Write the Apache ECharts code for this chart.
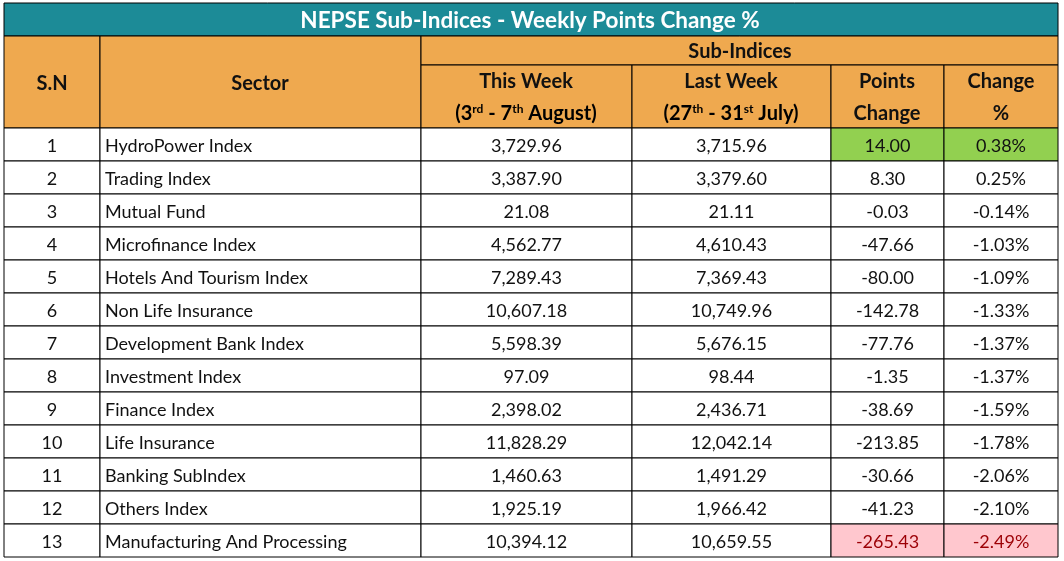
<!DOCTYPE html>
<html lang="en">
<head>
  <meta charset="UTF-8">
  <title>NEPSE Sub-Indices</title>
  <style>
    html, body { margin: 0; padding: 0; background: #fff; }
    #chart { width: 1064px; height: 561px; }
  </style>
</head>
<body>
  <div id="chart"></div>
</body>
<script src="https://cdn.jsdelivr.net/npm/echarts@6/dist/echarts.min.js"></script>
<script>
  let sn = ['1', '2', '3', '4', '5', '6', '7', '8', '9', '10', '11', '12', '13']
  let sectors = [
    'HydroPower Index', 'Trading Index', 'Mutual Fund', 'Microfinance Index',
    'Hotels And Tourism Index', 'Non Life Insurance', 'Development Bank Index',
    'Investment Index', 'Finance Index', 'Life Insurance', 'Banking SubIndex',
    'Others Index', 'Manufacturing And Processing'
  ]
  let thisWeek = [3729.96, 3387.90, 21.08, 4562.77, 7289.43, 10607.18, 5598.39, 97.09, 2398.02, 11828.29, 1460.63, 1925.19, 10394.12]
  let lastWeek = [3715.96, 3379.60, 21.11, 4610.43, 7369.43, 10749.96, 5676.15, 98.44, 2436.71, 12042.14, 1491.29, 1966.42, 10659.55]
  let pointsChange = [14.00, 8.30, -0.03, -47.66, -80.00, -142.78, -77.76, -1.35, -38.69, -213.85, -30.66, -41.23, -265.43]
  let changePct = [0.38, 0.25, -0.14, -1.03, -1.09, -1.33, -1.37, -1.37, -1.59, -1.78, -2.06, -2.10, -2.49]

  // layout (not data): column edges in table units, left to right
  let colEdges = [0, 96, 417, 628, 827, 940, 1054]
  let font = 'Lato, "Open Sans", sans-serif'
  let teal = '#1c8b97'
  let orange = '#efa94f'
  let green = '#92d050'
  let pink = '#ffc7ce'
  let darkRed = '#9c0006'

  let fmt = v => v.toLocaleString('en-US', { minimumFractionDigits: 2, maximumFractionDigits: 2 })

  let best = changePct.indexOf(Math.max(...changePct))
  let worst = changePct.indexOf(Math.min(...changePct))

  // one item per cell: [col, row, text]
  let cells = []
  sn.forEach((s, i) => {
    let row = [s, sectors[i], fmt(thisWeek[i]), fmt(lastWeek[i]), fmt(pointsChange[i]), changePct[i].toFixed(2) + '%']
    row.forEach((t, c) => cells.push([c, i, t]))
  })

  let chart = echarts.init(document.getElementById('chart'))

  function renderCell(params, api) {
    let c = api.value(0)
    let r = api.value(1)
    let text = cells[params.dataIndex][2]
    let x0 = api.coord([colEdges[c], r])[0]
    let x1 = api.coord([colEdges[c + 1], r])[0]
    let band = api.size([0, 1])[1]
    let yc = api.coord([0, r])[1]
    let fill = '#fff'
    let color = '#111'
    if (c >= 4 && r === best) fill = green
    if (c >= 4 && r === worst) { fill = pink; color = darkRed }
    let left = c === 1
    return {
      type: 'group',
      children: [
        {
          type: 'rect',
          shape: { x: x0, y: yc - band / 2, width: x1 - x0, height: band },
          style: { fill: fill, stroke: '#000', lineWidth: 1 }
        },
        {
          type: 'text',
          style: {
            text: text,
            x: left ? x0 + 5 : (x0 + x1) / 2,
            y: yc + 2,
            align: left ? 'left' : 'center',
            verticalAlign: 'middle',
            fontFamily: font,
            fontSize: 18,
            fill: color
          }
        }
      ]
    }
  }

  let headStyle = { fontFamily: font, fontSize: 20, fontWeight: 'bold', fill: '#111' }
  let rich = {
    b: { fontFamily: font, fontSize: 20, fontWeight: 'bold', color: '#111' },
    s: { fontFamily: font, fontSize: 12, fontWeight: 'bold', color: '#111', padding: [0, 0, 10, 0] }
  }
  function headText(x, y, text) {
    return { type: 'text', x: x, y: y, style: Object.assign({ text: text, align: 'center', verticalAlign: 'middle' }, headStyle) }
  }
  function headRich(x, y, text) {
    return { type: 'text', x: x, y: y, style: { text: text, rich: rich, align: 'center', verticalAlign: 'middle' } }
  }
  function box(x, y, w, h, fill) {
    return { type: 'rect', shape: { x: x, y: y, width: w, height: h }, style: { fill: fill, stroke: '#000', lineWidth: 1 } }
  }

  let option = {
    animation: false,
    grid: { left: 4, right: 6, top: 128, bottom: 4 },
    xAxis: { type: 'value', min: 0, max: 1054, show: false },
    yAxis: { type: 'category', data: sn, inverse: true, show: false },
    graphic: [
      box(4, 3, 1054, 33, teal),
      { type: 'text', x: 530, y: 21, style: { text: 'NEPSE Sub-Indices - Weekly Points Change %', align: 'center', verticalAlign: 'middle', fontFamily: font, fontSize: 22.5, fontWeight: 'bold', fill: '#fff' } },
      box(4, 36, 96, 92, orange),
      box(100, 36, 321, 92, orange),
      box(421, 36, 637, 29, orange),
      box(421, 65, 211, 63, orange),
      box(632, 65, 199, 63, orange),
      box(831, 65, 113, 63, orange),
      box(944, 65, 114, 63, orange),
      headText(52, 84, 'S.N'),
      headText(260, 84, 'Sector'),
      headText(740, 52, 'Sub-Indices'),
      headText(526, 82, 'This Week'),
      headRich(526, 114, '{b|(3}{s|rd}{b| - 7}{s|th}{b| August)}'),
      headText(731, 82, 'Last Week'),
      headRich(731, 114, '{b|(27}{s|th}{b| - 31}{s|st}{b| July)}'),
      headText(887, 82, 'Points'),
      headText(887, 114, 'Change'),
      headText(1001, 82, 'Change'),
      headText(1001, 114, '%')
    ],
    series: [
      {
        type: 'custom',
        renderItem: renderCell,
        encode: { x: 0, y: 1 },
        data: cells.map(c => [c[0], c[1]])
      }
    ]
  }
  chart.setOption(option)
</script>
</html>
